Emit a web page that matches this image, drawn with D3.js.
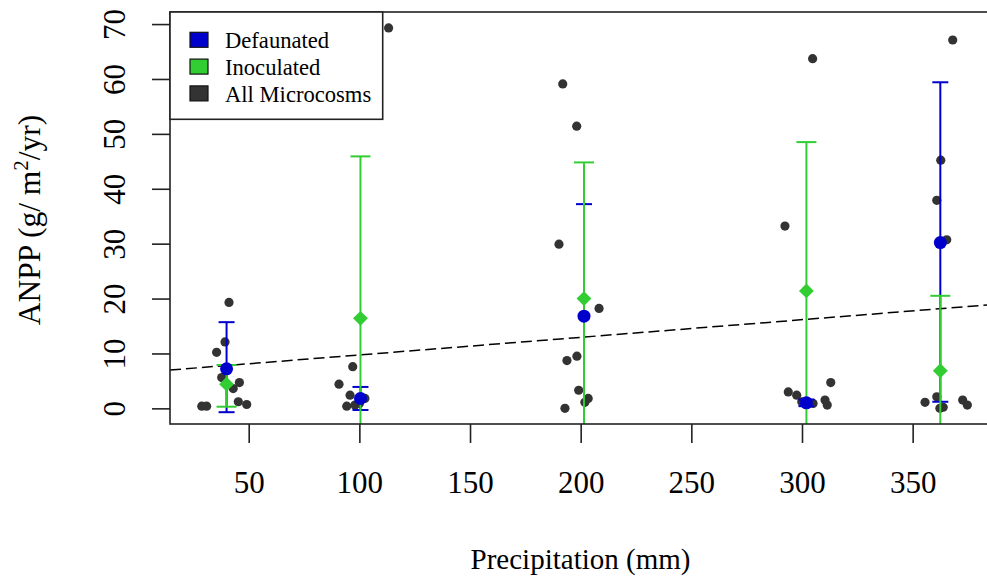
<!DOCTYPE html>
<html>
<head>
<meta charset="utf-8">
<script src="https://cdn.jsdelivr.net/npm/d3@7"></script>
<style>
  html, body { margin: 0; padding: 0; background: #fff; }
  svg { display: block; }
</style>
</head>
<body>
<svg id="chart" width="987" height="581" font-family="'Liberation Serif', 'Times New Roman', serif"></svg>
<script>
// Precipitation treatment positions (mm) for the group summaries
const groupPrecip = [40, 100.5, 201.5, 302, 362.5];

// Defaunated microcosms: mean ANPP and error-bar limits per treatment
const defaunatedMean = [7.2, 1.8, 16.8, 1.0, 30.2];
const defaunatedLo   = [-0.7, -0.3, -3.6, 0.4, 1.2];
const defaunatedHi   = [15.7, 3.9, 37.2, 1.6, 59.4];

// Inoculated microcosms: mean ANPP and error-bar limits per treatment
const inoculatedMean = [4.4, 16.4, 20.0, 21.4, 6.85];
const inoculatedLo   = [0.3, -13.1, -4.8, -5.7, -6.8];
const inoculatedHi   = [7.9, 45.9, 44.8, 48.5, 20.5];

// Individual microcosms (jittered precipitation, ANPP)
const microPrecip = [
  41.1, 39.3, 35.5, 37.8, 45.8, 43.0, 28.8, 31.0, 45.3, 49.1,
  113.2, 97.0, 90.8, 95.8, 94.3, 98.0, 102.5, 100.0,
  191.9, 198.2, 190.2, 208.3, 198.3, 193.8, 199.1, 203.4, 201.9, 192.9,
  304.8, 292.3, 313.0, 293.8, 297.6, 299.9, 310.4, 311.4, 305.0,
  368.1, 362.7, 360.9, 365.4, 355.6, 360.9, 363.8, 362.3, 372.6, 374.7
];
const microANPP = [
  19.3, 12.1, 10.2, 5.6, 4.7, 3.6, 0.4, 0.4, 1.2, 0.7,
  69.3, 7.6, 4.4, 2.4, 0.4, 0.6, 1.8, 0.9,
  59.1, 51.4, 29.9, 18.2, 9.5, 8.7, 3.3, 1.8, 1.1, 0.0,
  63.7, 33.2, 4.7, 3.0, 2.4, 1.2, 1.5, 0.6, 0.9,
  67.1, 45.2, 37.9, 30.7, 1.1, 2.1, 0.2, 0.0, 1.5, 0.6
];

// Linear fit across all microcosms: ANPP = intercept + slope * precipitation
const fitIntercept = 6.52;
const fitSlope = 0.0321;

const xTicks = [50, 100, 150, 200, 250, 300, 350];
const yTicks = [0, 10, 20, 30, 40, 50, 60, 70];

const legendLabels = ["Defaunated", "Inoculated", "All Microcosms"];
const colBlue = "#0000cd", colGreen = "#32cd32", colGrey = "#333333";
const legendColors = [colBlue, colGreen, colGrey];

const SERIF = "'Liberation Serif', 'Times New Roman', serif";

// ---- layout ----
const plot = { left: 170, right: 991, top: 12, bottom: 424 };
const svg = d3.select("#chart");

const x = d3.scaleLinear().domain([14.44, 385.4]).range([plot.left, plot.right]);
const y = d3.scaleLinear().domain([-2.85, 72.2]).range([plot.bottom, plot.top]);

svg.append("defs").append("clipPath").attr("id", "plotClip")
  .append("rect")
  .attr("x", plot.left).attr("y", plot.top)
  .attr("width", plot.right - plot.left).attr("height", plot.bottom - plot.top);

const inner = svg.append("g").attr("clip-path", "url(#plotClip)");

// microcosm points
inner.append("g").selectAll("circle")
  .data(microPrecip.map((p, i) => [p, microANPP[i]]))
  .join("circle")
  .attr("cx", d => x(d[0])).attr("cy", d => y(d[1]))
  .attr("r", 4.6).attr("fill", colGrey);

// regression line
inner.append("line")
  .attr("x1", x(x.domain()[0])).attr("y1", y(fitIntercept + fitSlope * x.domain()[0]))
  .attr("x2", x(x.domain()[1])).attr("y2", y(fitIntercept + fitSlope * x.domain()[1]))
  .attr("stroke", "#000").attr("stroke-width", 1.5).attr("stroke-dasharray", "11,5");

// error bars
function errorBars(lo, hi, color, capHalf) {
  const g = inner.append("g").attr("stroke", color).attr("stroke-width", 2);
  groupPrecip.forEach((p, i) => {
    const cx = x(p);
    g.append("line").attr("x1", cx).attr("x2", cx).attr("y1", y(lo[i])).attr("y2", y(hi[i]));
    [lo[i], hi[i]].forEach(v => {
      g.append("line").attr("x1", cx - capHalf).attr("x2", cx + capHalf)
        .attr("y1", y(v)).attr("y2", y(v));
    });
  });
}
errorBars(defaunatedLo, defaunatedHi, colBlue, 8);
errorBars(inoculatedLo, inoculatedHi, colGreen, 10);

// group means
inner.append("g").selectAll("circle")
  .data(groupPrecip.map((p, i) => [p, defaunatedMean[i]]))
  .join("circle")
  .attr("cx", d => x(d[0])).attr("cy", d => y(d[1]))
  .attr("r", 6.5).attr("fill", colBlue);

const diamond = d3.symbol().type(d3.symbolDiamond2).size(140);
inner.append("g").selectAll("path")
  .data(groupPrecip.map((p, i) => [p, inoculatedMean[i]]))
  .join("path")
  .attr("d", diamond)
  .attr("transform", d => `translate(${x(d[0])},${y(d[1])})`)
  .attr("fill", colGreen);

// frame
svg.append("rect")
  .attr("x", plot.left).attr("y", plot.top)
  .attr("width", plot.right - plot.left).attr("height", plot.bottom - plot.top)
  .attr("fill", "none").attr("stroke", "#222").attr("stroke-width", 1.6);

// x axis
const xAxis = svg.append("g").attr("transform", `translate(0,${plot.bottom})`)
  .call(d3.axisBottom(x).tickValues(xTicks).tickSize(19).tickFormat(d3.format("d")))
  .attr("font-family", SERIF).attr("font-size", 31);
xAxis.select(".domain").remove();
xAxis.selectAll(".tick line").attr("stroke", "#222").attr("stroke-width", 1.6);
xAxis.selectAll(".tick text")
  .attr("y", 69).attr("dy", 0).attr("fill", "#000");

// y axis
const yAxis = svg.append("g").attr("transform", `translate(${plot.left},0)`)
  .call(d3.axisLeft(y).tickValues(yTicks).tickSize(18).tickFormat(d3.format("d")))
  .attr("font-family", SERIF).attr("font-size", 31);
yAxis.select(".domain").remove();
yAxis.selectAll(".tick line").attr("stroke", "#222").attr("stroke-width", 1.6);
yAxis.selectAll(".tick text")
  .attr("x", null).attr("dy", 0).attr("text-anchor", "middle")
  .attr("transform", "translate(-45,0) rotate(-90)")
  .attr("fill", "#000");

// axis titles
svg.append("text")
  .attr("x", (plot.left + plot.right) / 2).attr("y", 569)
  .attr("text-anchor", "middle")
  .attr("font-family", SERIF).attr("font-size", 29).attr("fill", "#000")
  .text("Precipitation (mm)");

const yTitle = svg.append("text")
  .attr("transform", `translate(40,${(plot.top + plot.bottom) / 2 + 2}) rotate(-90)`)
  .attr("text-anchor", "middle")
  .attr("font-family", SERIF).attr("font-size", 31.5).attr("fill", "#000");
yTitle.append("tspan").text("ANPP (g/ m");
yTitle.append("tspan").attr("dy", -12).attr("font-size", 21).text("2");
yTitle.append("tspan").attr("dy", 12).text("/yr)");

// legend
const legend = svg.append("g");
legend.append("rect")
  .attr("x", plot.left).attr("y", plot.top)
  .attr("width", 212.7).attr("height", 107.3)
  .attr("fill", "#fff").attr("stroke", "#222").attr("stroke-width", 1.6);
legendLabels.forEach((lab, i) => {
  const cy = 39.8 + i * 26.8;
  legend.append("rect")
    .attr("x", 190).attr("y", cy - 7.5).attr("width", 18).attr("height", 15)
    .attr("fill", legendColors[i]).attr("stroke", "#111").attr("stroke-width", 1.2);
  legend.append("text")
    .attr("x", 225).attr("y", cy + 8.5)
    .attr("font-family", SERIF).attr("font-size", 22.6).attr("fill", "#000")
    .text(lab);
});
</script>
</body>
</html>
